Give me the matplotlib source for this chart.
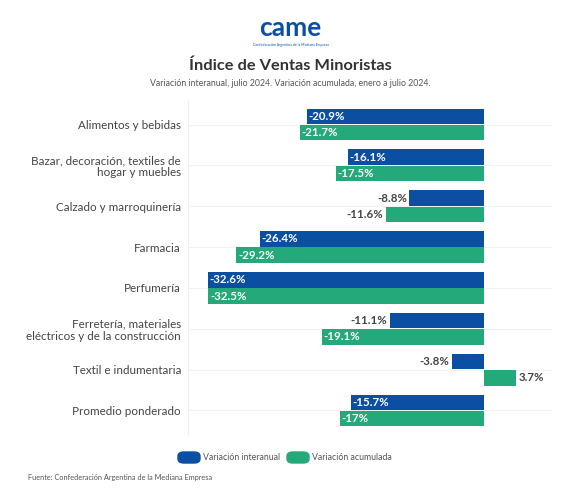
import matplotlib.pyplot as plt
import numpy as np
from matplotlib.patches import FancyBboxPatch

plt.rcParams['font.family'] = ['Lato', 'DejaVu Sans']

categories = ['Alimentos y bebidas',
              'Bazar, decoración, textiles de\nhogar y muebles',
              'Calzado y marroquinería',
              'Farmacia',
              'Perfumería',
              'Ferretería, materiales\neléctricos y de la construcción',
              'Textil e indumentaria',
              'Promedio ponderado']
interanual = [-20.9, -16.1, -8.8, -26.4, -32.6, -11.1, -3.8, -15.7]
acumulada = [-21.7, -17.5, -11.6, -29.2, -32.5, -19.1, 3.7, -17.0]
interanual_txt = ['-20.9%', '-16.1%', '-8.8%', '-26.4%', '-32.6%', '-11.1%', '-3.8%', '-15.7%']
acumulada_txt = ['-21.7%', '-17.5%', '-11.6%', '-29.2%', '-32.5%', '-19.1%', '3.7%', '-17%']

blue = '#0b4fa3'
green = '#23a97a'
dark = '#444444'

fig = plt.figure(figsize=(5.81, 4.94), dpi=100)
ax = fig.add_axes([188 / 581, 1 - 435 / 494, (552 - 188) / 581, 335 / 494])

y = np.arange(len(categories))
h = 0.38
ax.barh(y - 0.2, interanual, height=h, color=blue, zorder=3)
ax.barh(y + 0.2, acumulada, height=h, color=green, zorder=3)

def label(vals, txts, off):
    for i, (v, t) in enumerate(zip(vals, txts)):
        if v < -14:
            ax.text(v + 0.2, i + off, t, color='white', fontsize=8.3, fontweight='bold',
                    ha='left', va='center', zorder=4)
        elif v < 0:
            ax.text(v - 0.3, i + off, t, color=dark, fontsize=8.3, fontweight='bold',
                    ha='right', va='center', zorder=4)
        else:
            ax.text(v + 0.4, i + off, t, color=dark, fontsize=8.3, fontweight='bold',
                    ha='left', va='center', zorder=4)

label(interanual, interanual_txt, -0.2)
label(acumulada, acumulada_txt, 0.2)

ax.set_xlim(-34.9, 8.0)
ax.set_ylim(7.6, -0.6)
ax.set_yticks(y)
ax.set_yticklabels(categories, fontsize=8.4, color=dark, ha='right', linespacing=1.1)
ax.tick_params(axis='y', length=0, pad=5)
ax.set_xticks([])
for s in ['top', 'right', 'bottom']:
    ax.spines[s].set_visible(False)
ax.spines['left'].set_color('#eef2f2')
for yy in y:
    ax.axhline(yy, color='#eef2f2', lw=0.8, zorder=1)

# logo
fig.text(0.5, 1 - 28 / 494, 'came', ha='center', va='center', fontsize=19,
         fontweight='bold', color=blue)
fig.text(0.5, 1 - 45 / 494, 'Confederación Argentina de la Mediana Empresa', ha='center',
         va='center', fontsize=2.5, color=blue)

fig.text(0.5, 1 - 66 / 494, 'Índice de Ventas Minoristas', ha='center', va='center',
         fontsize=11.8, fontweight='bold', color='#333333')
fig.text(0.5, 1 - 83 / 494, 'Variación interanual, julio 2024. Variación acumulada, enero a julio 2024.',
         ha='center', va='center', fontsize=6.3, color='#555555')

# legend
for x0, col, txt in [(178, blue, 'Variación interanual'), (287, green, 'Variación acumulada')]:
    p = FancyBboxPatch((x0 / 581, 1 - 463 / 494), 22 / 581, 11 / 494,
                       boxstyle='round,pad=0,rounding_size=0.01', transform=fig.transFigure,
                       color=col, mutation_aspect=494 / 581)
    fig.patches.append(p)
    fig.text((x0 + 25) / 581, 1 - 457 / 494, txt, ha='left', va='center',
             fontsize=6.3, color='#555555')

fig.text(28 / 581, 1 - 477 / 494, 'Fuente: Confederación Argentina de la Mediana Empresa',
         ha='left', va='center', fontsize=5.3, color='#555555')

fig.savefig('out.png', dpi=100, facecolor='white')
